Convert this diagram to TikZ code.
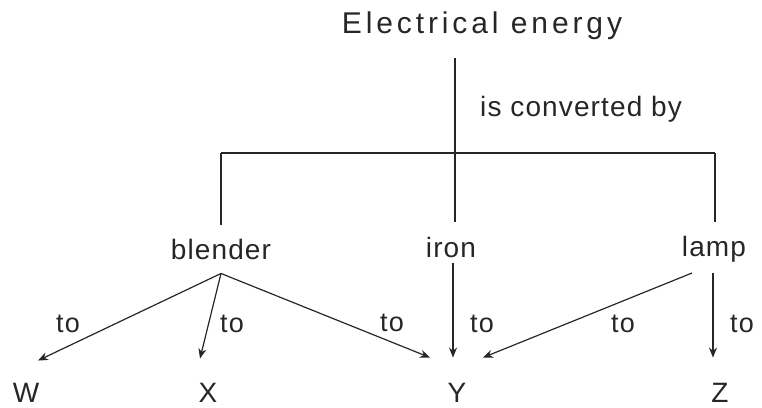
\documentclass[tikz,border=0pt]{standalone}
\usepackage{fontspec}
\setmainfont{Liberation Sans}
\newfontfamily\titlefont[LetterSpace=13]{Liberation Sans}
\newfontfamily\labfont[LetterSpace=4]{Liberation Sans}
\usetikzlibrary{arrows.meta}
\begin{document}
\begin{tikzpicture}[x=1pt,y=-1pt,
  ttl/.style={inner sep=0pt, font=\titlefont\fontsize{30pt}{36pt}\selectfont, text=black!85},
  txt/.style={inner sep=0pt, font=\labfont\fontsize{28pt}{32pt}\selectfont, text=black!85},
  lbl/.style={inner sep=0pt, font=\labfont\fontsize{27pt}{32pt}\selectfont, text=black!85},
  ln/.style={draw=black!85, line width=1.2pt},
  arr/.style={ln, -{Stealth[length=10pt,width=8pt]}}]
\useasboundingbox (0,0) rectangle (762,407);
% texts
\node[ttl, anchor=base] (title) at (482,33) {Electrical energy};
\node[txt, anchor=base west] (conv) at (480,116) {is converted by};
\node[txt, anchor=base] (blender) at (221,259) {blender};
\node[txt, anchor=base] (iron) at (451,257) {iron};
\node[txt, anchor=base] (lamp) at (714,256) {lamp};
\node[txt, anchor=base] (W) at (26,402) {W};
\node[txt, anchor=base] (X) at (208,402) {X};
\node[txt, anchor=base] (Y) at (457,402) {Y};
\node[txt, anchor=base] (Z) at (720,402) {Z};
% tree
\coordinate (j) at (455,153);
\coordinate (jl) at (221,153);
\coordinate (jr) at (715,153);
\draw[ln, shorten <=19pt] (j |- title.south) -- (j);
\draw[ln] (jl) -- (jr);
\draw[ln, shorten >=14pt] (jl) -- (jl |- blender.north);
\draw[ln, shorten >=15pt] (j) -- (j |- iron.north);
\draw[ln, shorten >=14pt] (jr) -- (jr |- lamp.north);
% arrows
\draw[arr] ([yshift=-14pt]blender.south) -- ([shift={(12pt,22pt)}]W.north);
\draw[arr] ([yshift=-14pt]blender.south) -- ([shift={(-8pt,24pt)}]X.north);
\draw[arr] ([yshift=-14pt]blender.south) -- ([shift={(-27pt,25pt)}]Y.north);
\draw[arr] ([shift={(2pt,-6pt)}]iron.south) -- ([shift={(-4pt,25pt)}]Y.north);
\draw[arr] ([shift={(-22pt,-11pt)}]lamp.south) -- ([shift={(26pt,25pt)}]Y.north);
\draw[arr] ([shift={(-1pt,-11pt)}]lamp.south) -- ([shift={(-7pt,25pt)}]Z.north);
% labels
\node[lbl] (t1) at (68,324) {to};
\node[lbl] (t2) at (232,324) {to};
\node[lbl] (t3) at (392,323) {to};
\node[lbl] (t4) at (482,324) {to};
\node[lbl] (t5) at (623,324) {to};
\node[lbl] (t6) at (742,324) {to};
\end{tikzpicture}
\end{document}
